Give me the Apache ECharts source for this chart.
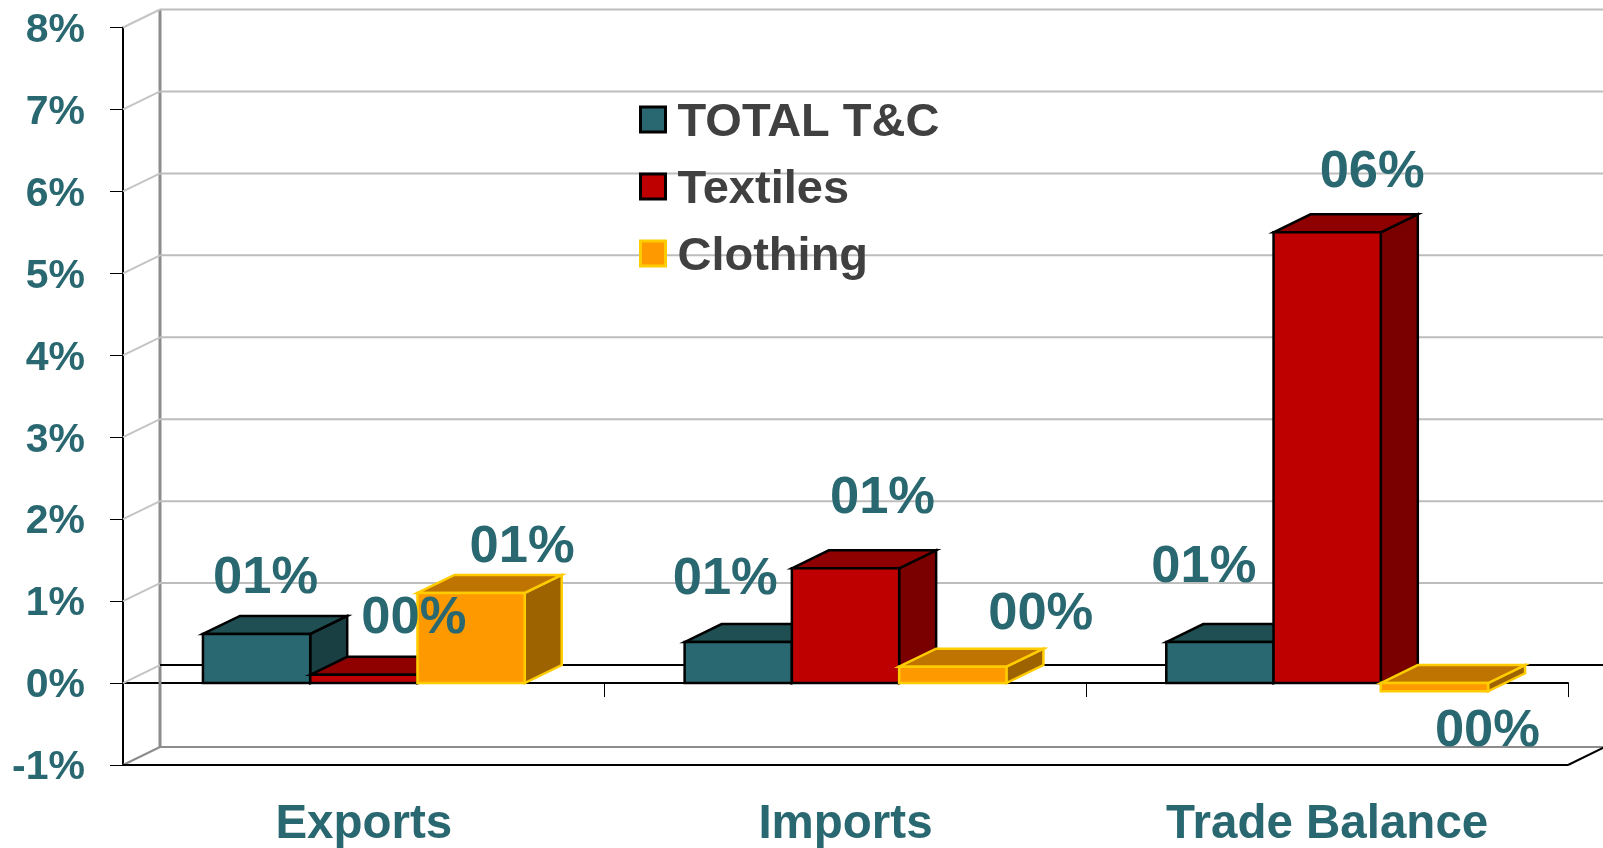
<!DOCTYPE html>
<html><head><meta charset="utf-8">
<style>html,body{margin:0;padding:0;background:#fff}#c{width:1603px;height:848px}</style>
<script src="https://cdn.jsdelivr.net/npm/echarts@6/dist/echarts.min.js"></script>
</head><body><div id="c"></div>
<script>
const categories = ['Exports', 'Imports', 'Trade Balance'];
const seriesNames = ['TOTAL T&C', 'Textiles', 'Clothing'];
const totalValues = [0.6, 0.5, 0.5];
const textileValues = [0.1, 1.4, 5.5];
const clothingValues = [1.1, 0.2, -0.1];
const yTicks = [-1, 0, 1, 2, 3, 4, 5, 6, 7, 8];

// label nudges from each bar's top-centre, in pixels (hand-placed in the reference)
const totalNudge = [[9, -55], [-13, -63], [-16, -75]];
const textileNudge = [[50, -56], [37, -70], [45, -60]];
const clothingNudge = [[51, -45], [88, -52], [53, 48]];

const DX = 37, DY = 18;
const BAR_SHARE = 322 / 482 / 3;
const TEAL = '#296870';
const FONT = '"Liberation Sans", Arial, sans-serif';
const palette = [
  { front: '#296870', top: '#1f4f52', side: '#1a3f43', edge: '#000000' },
  { front: '#bf0000', top: '#8f0000', side: '#7a0000', edge: '#000000' },
  { front: '#ff9900', top: '#bf7300', side: '#9c6300', edge: '#ffcc00' }
];

function fmt(v) { return String(Math.round(Math.abs(v))).padStart(2, '0') + '%'; }

function poly(points, fill, stroke) {
  return { type: 'polygon', shape: { points }, style: { fill, stroke, lineWidth: 2.5, lineJoin: 'miter' } };
}
function seg(x1, y1, x2, y2, stroke, lineWidth) {
  return { type: 'line', shape: { x1, y1, x2, y2 }, style: { stroke, lineWidth } };
}

function wallItem(params, api) {
  const v = api.value(1);
  const y = api.coord([0, v])[1];
  const cs = params.coordSys;
  const L = cs.x, R = cs.x + cs.width;
  const kids = [];
  let back = '#bdbdbd', diag = '#c4c4c4';
  if (v === 0) back = '#000000';
  if (v === -1) { back = '#8c8c8c'; diag = '#8c8c8c'; }
  kids.push(seg(L, y, L + DX, y - DY, diag, 2));
  kids.push(seg(L + DX, y - DY, R + DX + 10, y - DY, back, 2));
  if (v === -1) {
    kids.push(seg(L, y, R, y, '#000000', 2));
    kids.push(seg(R, y, R + DX, y - DY, '#000000', 2));
    const yTop = api.coord([0, yTicks[yTicks.length - 1]])[1];
    kids.push(seg(L + DX, yTop - DY, L + DX, y - DY, '#8c8c8c', 3));
  }
  return { type: 'group', children: kids };
}

function barRenderer(j, nudges) {
  const c = palette[j];
  return function (params, api) {
    const i = api.value(0), v = api.value(1);
    const band = api.size([1, 0])[0];
    const w = band * BAR_SHARE;
    const cx = api.coord([i, 0])[0] + (j - 1) * w;
    const x0 = cx - w / 2, x1 = cx + w / 2;
    const yTop = api.coord([i, Math.max(v, 0)])[1];
    const yBot = api.coord([i, Math.min(v, 0)])[1];
    const n = nudges[i];
    return {
      type: 'group',
      children: [
        poly([[x1, yTop], [x1 + DX, yTop - DY], [x1 + DX, yBot - DY], [x1, yBot]], c.side, c.edge),
        poly([[x0, yTop], [x0 + DX, yTop - DY], [x1 + DX, yTop - DY], [x1, yTop]], c.top, c.edge),
        poly([[x0, yTop], [x1, yTop], [x1, yBot], [x0, yBot]], c.front, c.edge),
        {
          type: 'text', z2: 100,
          style: {
            x: cx + n[0], y: yTop + n[1], text: fmt(v),
            fill: TEAL, font: 'bold 52.5px ' + FONT,
            align: 'center', verticalAlign: 'middle'
          }
        }
      ]
    };
  };
}

const seriesValues = [totalValues, textileValues, clothingValues];
const nudgeSets = [totalNudge, textileNudge, clothingNudge];

const chart = echarts.init(document.getElementById('c'), null, { renderer: 'canvas' });
chart.setOption({
  animation: false,
  backgroundColor: '#ffffff',
  grid: { left: 123, right: 35, top: 27.5, bottom: 83, containLabel: false, outerBoundsMode: 'none' },
  legend: {
    left: 634, top: 95, orient: 'vertical', icon: 'rect',
    itemWidth: 25, itemHeight: 25, itemGap: 20,
    selectedMode: false,
    data: seriesNames,
    itemStyle: { borderWidth: 3 },
    formatter: '{a|{name}}',
    textStyle: {
      rich: { a: { color: '#404040', fontFamily: FONT, fontWeight: 'bold', fontSize: 47, padding: [8, 0, 0, 7] } }
    }
  },
  xAxis: {
    type: 'category', data: categories, boundaryGap: true,
    axisLine: { onZero: true, lineStyle: { color: '#000', width: 2 } },
    axisTick: { show: true, length: 14, lineStyle: { color: '#000', width: 1 } },
    axisLabel: { margin: 36, color: TEAL, fontFamily: FONT, fontWeight: 'bold', fontSize: 47.5 },
    splitLine: { show: false }
  },
  yAxis: {
    type: 'value', min: -1, max: 8, interval: 1,
    axisLine: { show: true, lineStyle: { color: '#000', width: 2 } },
    axisTick: { show: true, length: 13, lineStyle: { color: '#000', width: 1 } },
    axisLabel: {
      margin: 38, formatter: '{a|{value}%}',
      rich: { a: { color: TEAL, fontFamily: FONT, fontWeight: 'bold', fontSize: 41, padding: [6, 0, 0, 0] } }
    },
    splitLine: { show: false }
  },
  series: [
    {
      type: 'custom', name: 'walls', z: 1, silent: true, legendHoverLink: false,
      data: yTicks.map(v => [0, v]), renderItem: wallItem, encode: { x: 0, y: 1 }
    }
  ].concat(seriesNames.map((name, j) => ({
    type: 'custom', name, z: 3, silent: true,
    itemStyle: { color: palette[j].front, borderColor: palette[j].edge, borderWidth: 2 },
    data: seriesValues[j].map((v, i) => [i, v]),
    renderItem: barRenderer(j, nudgeSets[j]),
    encode: { x: 0, y: 1 }
  })))
});
</script></body></html>
